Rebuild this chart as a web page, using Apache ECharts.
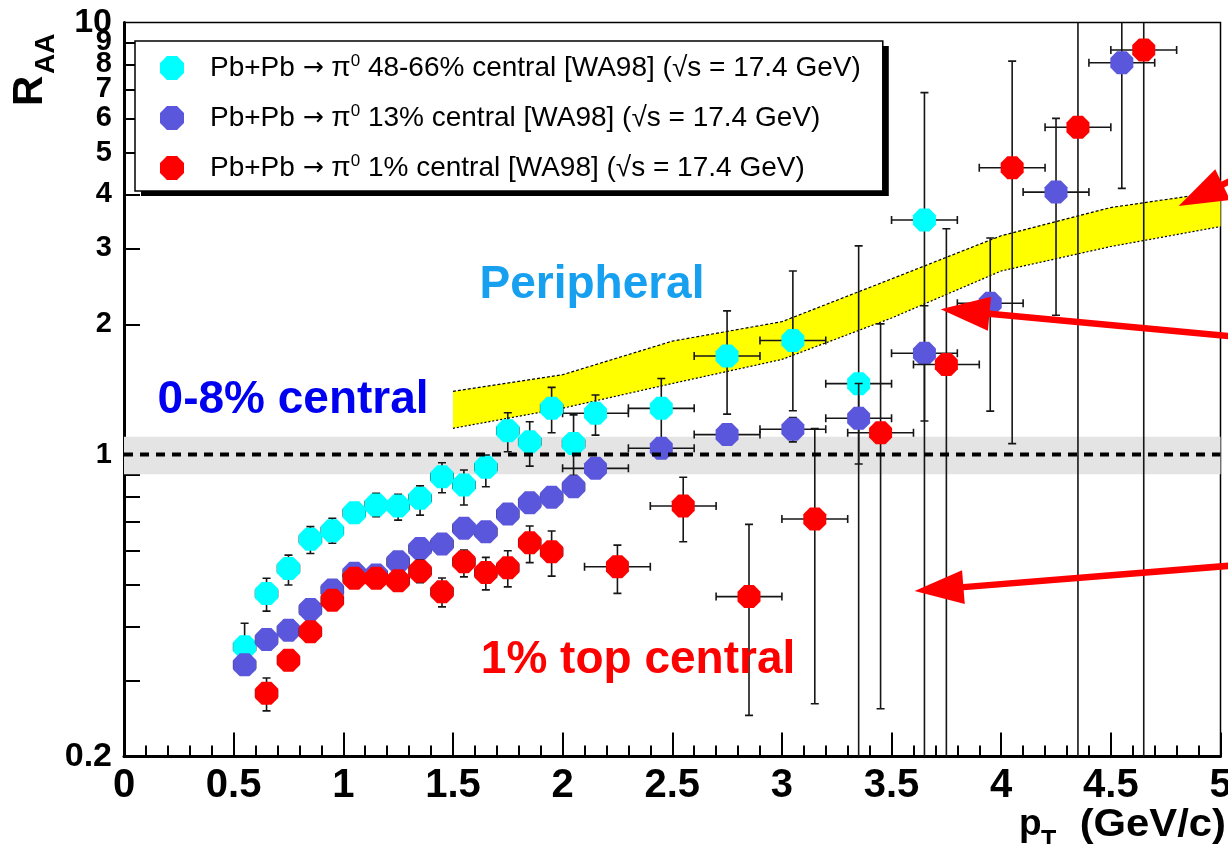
<!DOCTYPE html>
<html><head><meta charset="utf-8">
<script src="https://cdn.jsdelivr.net/npm/echarts@6/dist/echarts.min.js"></script>
<style>html,body{margin:0;padding:0;background:#fff}#c{width:1228px;height:844px}</style>
</head><body><div id="c"></div>
<script>
// ---------- data ----------
const cyanName = 'Pb+Pb \u2192 \u03c00 48-66% central [WA98] (\u221as = 17.4 GeV)';
const blueName = 'Pb+Pb \u2192 \u03c00 13% central [WA98] (\u221as = 17.4 GeV)';
const redName  = 'Pb+Pb \u2192 \u03c00 1% central [WA98] (\u221as = 17.4 GeV)';

const cyanPt = [0.55,0.65,0.75,0.85,0.95,1.05,1.15,1.25,1.35,1.45,1.55,1.65,1.75,1.85,1.95,2.05,2.15,2.45,2.75,3.05,3.35,3.65];
const cyanR  = [0.359,0.477,0.545,0.637,0.666,0.733,0.764,0.760,0.792,0.888,0.850,0.934,1.135,1.070,1.279,1.061,1.246,1.279,1.690,1.836,1.459,3.490];
const cyanLo = [0.315,0.434,0.499,0.590,0.623,0.695,0.718,0.705,0.724,0.816,0.764,0.842,1.015,0.940,1.123,0.895,1.109,1.050,1.240,1.263,0.100,0.100];
const cyanHi = [0.407,0.517,0.585,0.681,0.712,0.772,0.813,0.809,0.846,0.957,0.921,0.997,1.249,1.191,1.430,1.235,1.373,1.500,2.150,2.660,3.040,6.880];
const cyanXErr = [0.05,0.05,0.05,0.05,0.05,0.05,0.05,0.05,0.05,0.05,0.05,0.05,0.05,0.05,0.05,0.05,0.15,0.15,0.15,0.15,0.15,0.15];

const bluePt = [0.55,0.65,0.75,0.85,0.95,1.05,1.15,1.25,1.35,1.45,1.55,1.65,1.75,1.85,1.95,2.05,2.15,2.45,2.75,3.05,3.35,3.65,3.95,4.25,4.55];
const blueR  = [0.326,0.373,0.392,0.438,0.486,0.531,0.526,0.565,0.606,0.621,0.675,0.663,0.728,0.773,0.796,0.842,0.929,1.034,1.112,1.144,1.213,1.715,2.240,4.050,8.070];
const blueLo = [0.314,0.360,0.379,0.424,0.471,0.515,0.510,0.548,0.588,0.602,0.655,0.643,0.706,0.750,0.772,0.817,0.901,0.985,1.055,1.070,0.951,1.196,1.260,2.100,4.130];
const blueHi = [0.338,0.386,0.405,0.452,0.501,0.547,0.542,0.582,0.624,0.640,0.695,0.683,0.750,0.796,0.820,0.867,0.957,1.083,1.169,1.218,1.460,2.210,3.170,6.000,12.00];
const blueXErr = [0.05,0.05,0.05,0.05,0.05,0.05,0.05,0.05,0.05,0.05,0.05,0.05,0.05,0.05,0.05,0.05,0.15,0.15,0.15,0.15,0.15,0.15,0.15,0.15,0.15];

const redPt = [0.65,0.75,0.85,0.95,1.05,1.15,1.25,1.35,1.45,1.55,1.65,1.75,1.85,1.95,2.25,2.55,2.85,3.15,3.45,3.75,4.05,4.35,4.65];
const redR  = [0.280,0.334,0.389,0.460,0.517,0.517,0.510,0.537,0.481,0.565,0.533,0.547,0.625,0.596,0.550,0.760,0.469,0.709,1.123,1.616,4.610,5.720,8.640];
const redLo = [0.255,0.320,0.375,0.445,0.500,0.500,0.493,0.505,0.444,0.521,0.486,0.494,0.562,0.523,0.477,0.628,0.249,0.265,0.258,0.100,1.060,0.100,0.100];
const redHi = [0.304,0.348,0.403,0.475,0.534,0.534,0.527,0.570,0.518,0.601,0.578,0.599,0.683,0.665,0.617,0.886,0.689,1.148,2.006,3.330,8.140,12.00,12.00];
const redXErr = [0.05,0.05,0.05,0.05,0.05,0.05,0.05,0.05,0.05,0.05,0.05,0.05,0.05,0.05,0.15,0.15,0.15,0.15,0.15,0.15,0.15,0.15,0.15];

// yellow theory band
const bandPt = [1.5,2.0,2.5,3.0,3.5,4.0,4.5,5.0];
const bandLo = [1.15,1.28,1.46,1.66,2.07,2.66,3.03,3.37];
const bandHi = [1.40,1.53,1.83,2.03,2.55,3.21,3.73,4.06];

// unity reference
const unityValue = 1;
const unityBand = [0.9, 1.1];

// axes
const xMin = 0, xMax = 5, xStep = 0.5;
const yMin = 0.2, yMax = 10;
const yLabelValues = [0.2,1,2,3,4,5,6,7,8,10];
const yLabelText   = ['0.2','1','2','3','4','5','6','7','8','10'];
const yLabelValues2 = [9];          // drawn by an overlay axis (crowded near the top)
const yLabelText2   = ['9'];
const yTickValues  = [0.3,0.4,0.5,0.6,0.7,0.8,0.9,1,2,3,4,5,6,7,8,9];

// annotations (data coordinates)
const noteText = ['Peripheral','0-8% central','1% top central'];
const notePt   = [2.134, 0.771, 2.344];
const noteR    = [2.47, 1.337, 0.334];
// arrows: [fromPt, fromR, toPt, toR]
const arrowFromPt = [5.22, 5.18, 5.18];
const arrowFromR  = [4.75, 1.85, 0.56];
const arrowToPt   = [4.809, 3.724, 3.605];
const arrowToR    = [3.76, 2.17, 0.483];

// ---------- chart ----------
const FONT = '"Liberation Sans", Arial, sans-serif';
const OCT = 'path://M29,0L71,0L100,29L100,71L71,100L29,100L0,71L0,29Z';
const noteColor = ['#18a0f0', '#0000f0', '#ff0000'];

const chart = echarts.init(document.getElementById('c'), null, {renderer: 'canvas'});

function errData(pt, r, lo, hi, xe) { return pt.map((x, i) => [x, r[i], lo[i], hi[i], xe[i]]); }
function errRender(params, api) {
  const x = api.value(0), y = api.value(1), lo = api.value(2), hi = api.value(3), xe = api.value(4);
  const a = api.coord([x, lo]), b = api.coord([x, hi]);
  const l = api.coord([x - xe, y]), r = api.coord([x + xe, y]);
  const st = {stroke: '#161616', lineWidth: 1.6};
  const c = 4;
  return {type: 'group', children: [
    {type: 'line', shape: {x1: a[0], y1: a[1], x2: b[0], y2: b[1]}, style: st},
    {type: 'line', shape: {x1: a[0] - c, y1: a[1], x2: a[0] + c, y2: a[1]}, style: st},
    {type: 'line', shape: {x1: b[0] - c, y1: b[1], x2: b[0] + c, y2: b[1]}, style: st},
    {type: 'line', shape: {x1: l[0], y1: l[1], x2: r[0], y2: r[1]}, style: st},
    {type: 'line', shape: {x1: l[0], y1: l[1] - c, x2: l[0], y2: l[1] + c}, style: st},
    {type: 'line', shape: {x1: r[0], y1: r[1] - c, x2: r[0], y2: r[1] + c}, style: st}
  ]};
}
function errSeries(pt, r, lo, hi, xe, z) {
  return {type: 'custom', data: errData(pt, r, lo, hi, xe), renderItem: errRender,
    encode: {x: 0, y: 1}, clip: true, silent: true, z: z};
}
function ptSeries(name, pt, r, color, z) {
  return {type: 'scatter', name: name, data: pt.map((x, i) => [x, r[i]]), symbol: OCT, symbolSize: 23,
    itemStyle: {color: color, opacity: 1}, z: z, silent: true};
}

const series = [
  {type: 'custom', data: [[xMin, unityBand[0], unityBand[1]]], clip: true, silent: true, z: 1,
    renderItem: (params, api) => {
      const cs = params.coordSys;
      const yHi = api.coord([xMin, api.value(2)])[1], yLo = api.coord([xMin, api.value(1)])[1];
      return {type: 'rect', shape: {x: cs.x, y: yHi, width: cs.width, height: yLo - yHi}, style: {fill: '#e4e4e4'}};
    }},
  {type: 'custom', data: bandPt.map((x, i) => [x, bandLo[i], bandHi[i]]), clip: true, silent: true, z: 2,
    renderItem: (params, api) => {
      if (params.dataIndex !== 0) return null;
      const up = bandPt.map((x, i) => api.coord([x, bandHi[i]]));
      const dn = bandPt.map((x, i) => api.coord([x, bandLo[i]]));
      return {type: 'group', children: [
        {type: 'polygon', shape: {points: up.concat(dn.slice().reverse())}, style: {fill: '#ffff00'}},
        {type: 'polyline', shape: {points: up}, style: {stroke: '#000', lineWidth: 1.2, lineDash: [3, 2], fill: null}},
        {type: 'polyline', shape: {points: dn}, style: {stroke: '#000', lineWidth: 1.2, lineDash: [2, 2], fill: null}}
      ]};
    }},
  errSeries(cyanPt, cyanR, cyanLo, cyanHi, cyanXErr, 3),
  ptSeries(cyanName, cyanPt, cyanR, '#00ffff', 4),
  errSeries(bluePt, blueR, blueLo, blueHi, blueXErr, 5),
  ptSeries(blueName, bluePt, blueR, '#5b57dc', 6),
  errSeries(redPt, redR, redLo, redHi, redXErr, 7),
  ptSeries(redName, redPt, redR, '#ff0000', 8),
  {type: 'line', data: [[xMin, unityValue], [xMax, unityValue]], symbol: 'none', silent: true, z: 9,
    lineStyle: {color: '#000', width: 4, type: [9, 7]}, animation: false},
  {type: 'custom', data: notePt.map((x, i) => [x, noteR[i]]), clip: false, silent: true, z: 10,
    renderItem: (params, api) => {
      const p = api.coord([api.value(0), api.value(1)]);
      const i = params.dataIndex;
      return {type: 'text', x: p[0], y: p[1], style: {text: noteText[i], fill: noteColor[i],
        font: 'bold 46px ' + FONT, align: 'center', verticalAlign: 'middle'}};
    }},
  {type: 'custom', data: arrowFromPt.map((x, i) => [x, arrowFromR[i], arrowToPt[i], arrowToR[i]]),
    clip: false, silent: true, z: 11,
    renderItem: (params, api) => {
      const p1 = api.coord([api.value(0), api.value(1)]);
      const p2 = api.coord([api.value(2), api.value(3)]);
      const dx = p2[0] - p1[0], dy = p2[1] - p1[1], L = Math.hypot(dx, dy);
      const ux = dx / L, uy = dy / L, hl = 49, hw = 17;
      const bx = p2[0] - ux * hl, by = p2[1] - uy * hl;
      return {type: 'group', children: [
        {type: 'line', shape: {x1: p1[0], y1: p1[1], x2: bx + ux * 3, y2: by + uy * 3}, style: {stroke: '#ff0000', lineWidth: 6.5}},
        {type: 'polygon', shape: {points: [[p2[0], p2[1]], [bx - uy * hw, by + ux * hw], [bx + uy * hw, by - ux * hw]]}, style: {fill: '#ff0000'}}
      ]};
    }}
];

function makeYLabel(vals, texts) {
  return function (v) {
    let best = 0, bd = Infinity;
    for (let i = 0; i < vals.length; i++) {
      const d = Math.abs(Math.log(v / vals[i]));
      if (d < bd) { bd = d; best = i; }
    }
    if (bd > 1e-3) return '';
    const t = texts[best];
    return (t === '0.2' || t === '10') ? '{big|' + t + '}' : t;
  };
}
// keep the end labels inside the axis extent (floating point of log scale)
const clampY = v => Math.min(Math.max(v, yMin * (1 + 1e-7)), yMax * (1 - 1e-7));
const yLabelStyle = {color: '#000', fontSize: 29, fontWeight: 'bold', fontFamily: FONT, margin: 12,
  showMinLabel: true, showMaxLabel: true, hideOverlap: false,
  rich: {big: {fontSize: 34, fontWeight: 'bold', fontFamily: FONT, color: '#000'}}};

const legendText = name => '{g|}' + name.replace('\u2192', '{arr|\u2192}').replace('\u03c00', '\u03c0{sup|0}');
const legendRich = {
  sup: {fontSize: 17, fontFamily: FONT, verticalAlign: 'top', lineHeight: 30},
  arr: {fontSize: 25, fontFamily: '"DejaVu Sans", sans-serif', lineHeight: 30},
  g: {width: 21}
};
const legendBase = {orient: 'vertical', padding: [12, 22, 8, 25], itemWidth: 24, itemHeight: 24, itemGap: 20,
  borderRadius: 0, selectedMode: false, data: [cyanName, blueName, redName], formatter: legendText};

chart.setOption({
  animation: false,
  backgroundColor: '#fff',
  grid: {left: 124, right: 7.5, top: 22.5, bottom: 87.5, show: true, borderColor: '#000', borderWidth: 1.5,
    backgroundColor: 'transparent', containLabel: false, outerBoundsMode: 'none'},
  xAxis: {type: 'value', min: xMin, max: xMax, interval: xStep,
    axisLine: {onZero: false, lineStyle: {color: '#000', width: 3}},
    axisTick: {inside: true, length: 24, lineStyle: {color: '#000', width: 2}},
    minorTick: {show: true, splitNumber: 5, length: 11, lineStyle: {color: '#000', width: 2}},
    splitLine: {show: false}, minorSplitLine: {show: false},
    axisLabel: {color: '#000', fontSize: 40, fontWeight: 'bold', fontFamily: FONT, margin: 9,
      showMinLabel: true, showMaxLabel: true}},
  yAxis: [
    {type: 'log', logBase: 10, min: yMin, max: yMax,
      axisLine: {show: true, onZero: false, lineStyle: {color: '#000', width: 3}},
      axisTick: {show: true, inside: true, length: 16, customValues: yTickValues, lineStyle: {color: '#000', width: 2}},
      minorTick: {show: false}, splitLine: {show: false},
      axisLabel: Object.assign({customValues: yLabelValues.map(clampY), formatter: makeYLabel(yLabelValues, yLabelText)}, yLabelStyle)},
    {type: 'log', logBase: 10, min: yMin, max: yMax, position: 'left',
      axisLine: {show: false}, axisTick: {show: false}, minorTick: {show: false}, splitLine: {show: false},
      axisLabel: Object.assign({customValues: yLabelValues2, formatter: makeYLabel(yLabelValues2, yLabelText2)}, yLabelStyle)}
  ],
  legend: [
    Object.assign({}, legendBase, {left: 141, top: 46, backgroundColor: '#000', z: 19,
      itemStyle: {opacity: 0},
      textStyle: {fontFamily: FONT, fontSize: 28, color: 'rgba(0,0,0,0)', lineHeight: 30,
        rich: {sup: Object.assign({}, legendRich.sup, {color: 'rgba(0,0,0,0)'}),
               arr: Object.assign({}, legendRich.arr, {color: 'rgba(0,0,0,0)'}), g: legendRich.g}}}),
    Object.assign({}, legendBase, {left: 135, top: 41, backgroundColor: '#fff', borderColor: '#000', borderWidth: 1.5, z: 20,
      textStyle: {fontFamily: FONT, fontSize: 28, color: '#000', lineHeight: 30,
        rich: {sup: Object.assign({}, legendRich.sup, {color: '#000'}),
               arr: Object.assign({}, legendRich.arr, {color: '#000'}), g: legendRich.g}}})
  ],
  graphic: [
    {type: 'text', x: 30, y: 106, rotation: Math.PI / 2, style: {text: 'R', font: 'bold 42px ' + FONT, fill: '#000', align: 'left', verticalAlign: 'middle'}},
    {type: 'text', x: 46, y: 74, rotation: Math.PI / 2, style: {text: 'AA', font: 'bold 28px ' + FONT, fill: '#000', align: 'left', verticalAlign: 'middle'}},
    {type: 'text', x: 1019, y: 825, style: {text: 'p', font: 'bold 37px ' + FONT, fill: '#000', align: 'left', verticalAlign: 'middle'}},
    {type: 'text', x: 1041, y: 841, style: {text: 'T', font: 'bold 25px ' + FONT, fill: '#000', align: 'left', verticalAlign: 'middle'}},
    {type: 'text', x: 1226, y: 826, scaleX: 1.1, style: {text: '(GeV/c)', font: 'bold 38px ' + FONT, fill: '#000', align: 'right', verticalAlign: 'middle'}}
  ],
  series: series
});
</script>
</body></html>
